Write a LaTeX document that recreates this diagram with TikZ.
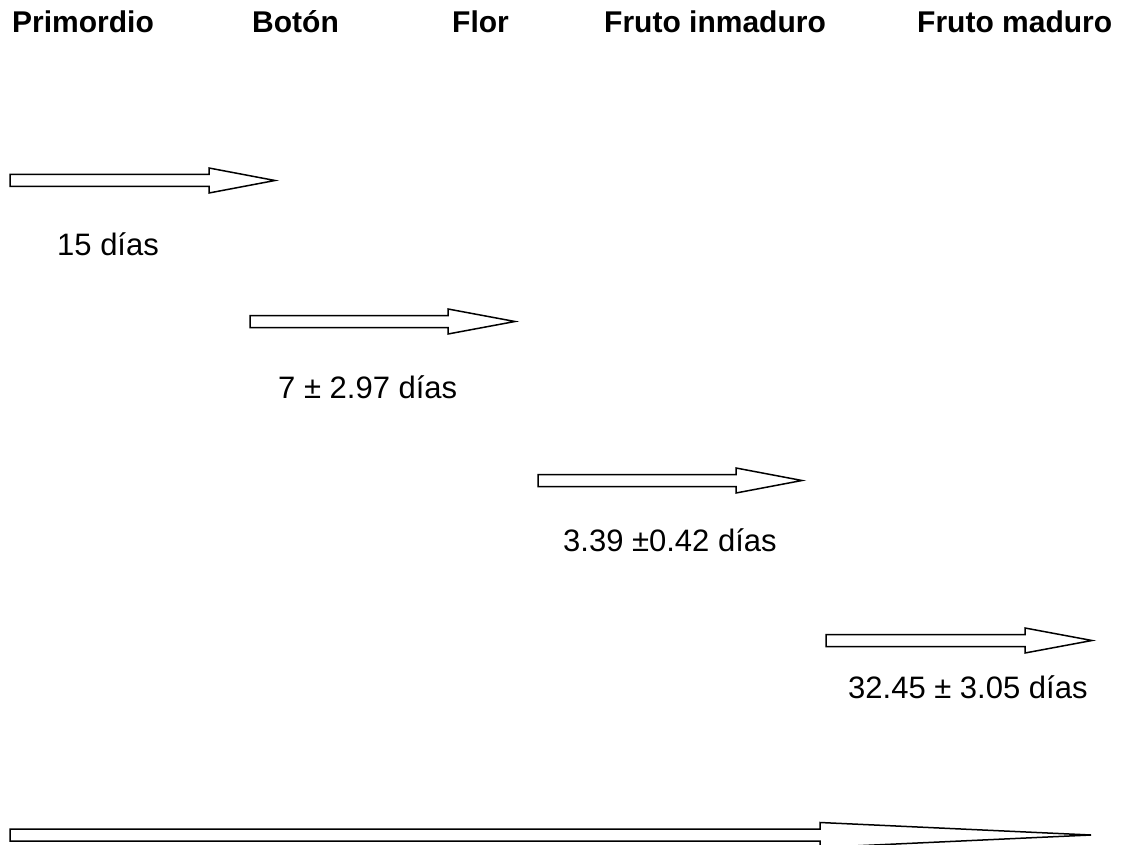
\documentclass[tikz,border=0pt]{standalone}
\usepackage{fontspec}
\setmainfont{Liberation Sans}
\begin{document}
\begin{tikzpicture}[x=1pt,y=-1pt,
  head/.style={anchor=base west,inner sep=0pt,font=\fontsize{30}{36}\selectfont\bfseries},
  lab/.style={anchor=base west,inner sep=0pt,font=\fontsize{31}{37}\selectfont},
  blk/.style={draw=black,fill=white,line width=1.5pt,line join=miter}]
\useasboundingbox (0,0) rectangle (1130,845);
\node[head] (h1) at (12,33) {Primordio};
\node[head] (h2) at (252,33) {Botón};
\node[head] (h3) at (452,33) {Flor};
\node[head] (h4) at (604,33) {Fruto inmaduro};
\node[head] (h5) at (917,33) {Fruto maduro};
\node[lab] (l1) at (57,255) {15 días};
\node[lab] (l2) at (278,398) {7 ± 2.97 días};
\node[lab] (l3) at (563,551) {3.39 ±0.42 días};
\node[lab] (l4) at (848,698) {32.45 ± 3.05 días};
% block arrows: start x, head start x, tip x, centre y
\newcommand{\blockarrow}[4]{%
  \draw[blk] (#1,#4-6) -- (#2,#4-6) -- (#2,#4-12.5) -- (#3,#4) -- (#2,#4+12.5) -- (#2,#4+6) -- (#1,#4+6) -- cycle;}
\blockarrow{10}{209}{275}{180.5}
\blockarrow{250}{448}{515}{321.5}
\blockarrow{538}{736}{802}{480.5}
\blockarrow{826}{1025}{1092}{640.5}
\blockarrow{10}{820}{1091}{835}
\end{tikzpicture}
\end{document}
